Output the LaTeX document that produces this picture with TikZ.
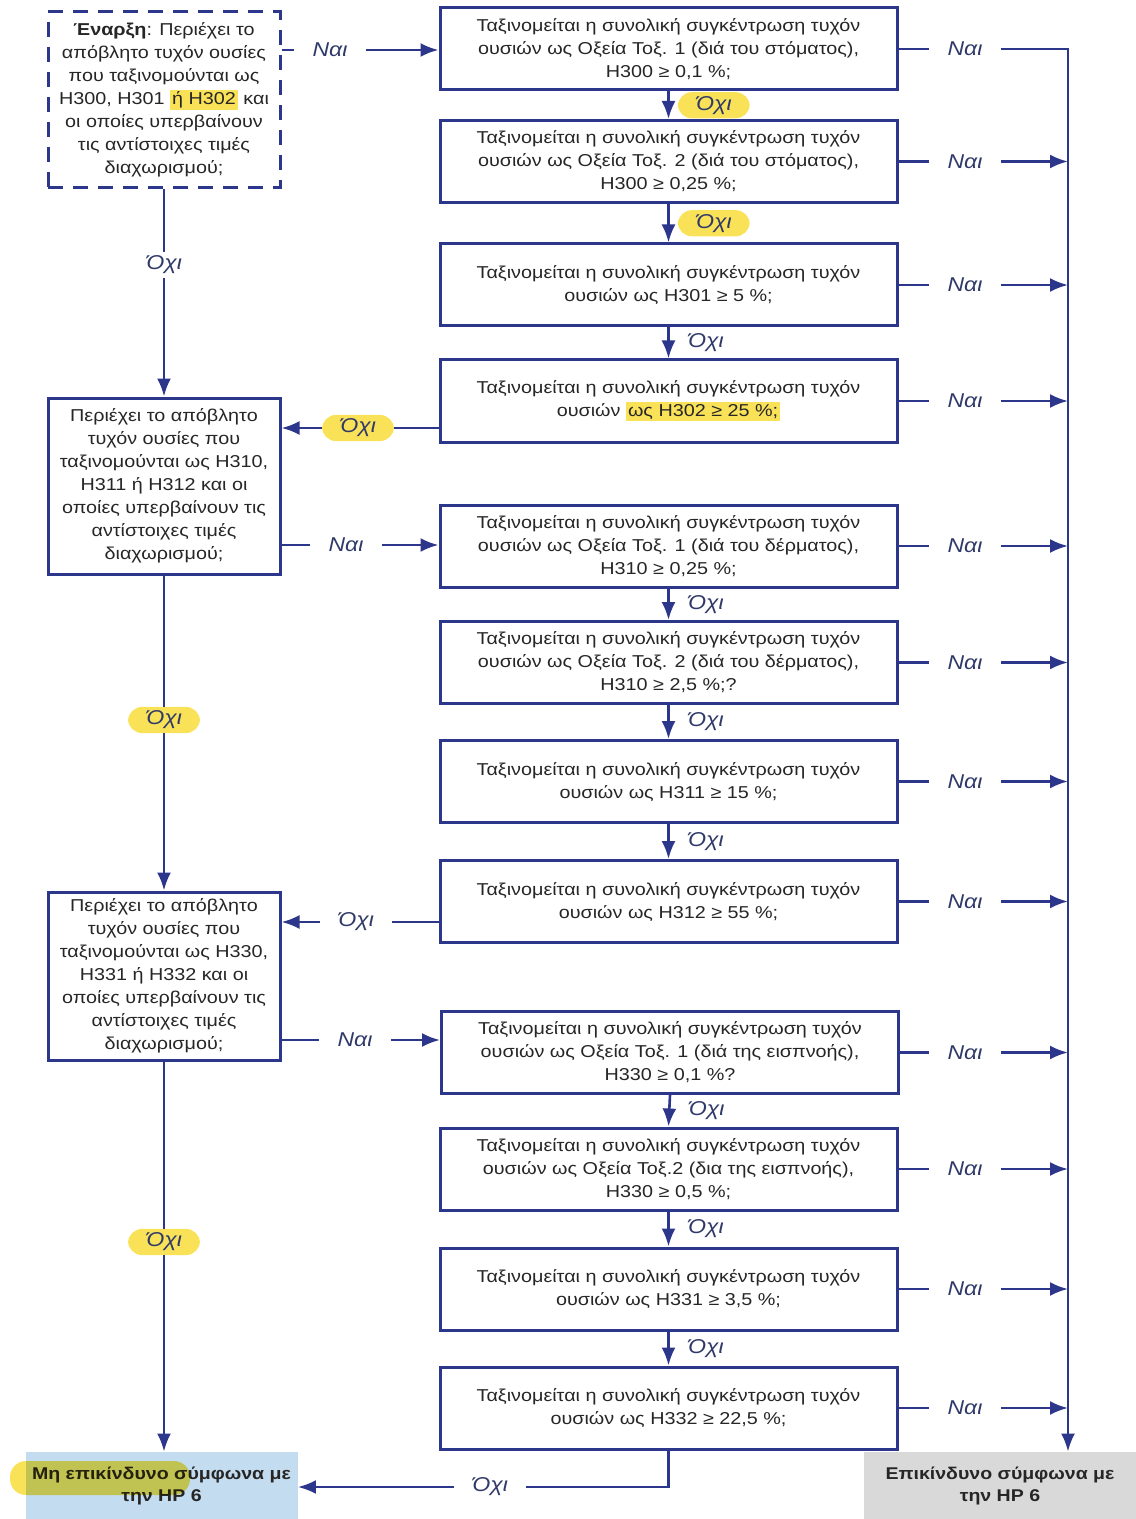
\documentclass[tikz,border=0pt]{standalone}
\usepackage{fontspec}
\setmainfont[FakeStretch=1.15]{Liberation Sans}
\usetikzlibrary{arrows.meta}

\definecolor{navy}{RGB}{44,54,138}
\definecolor{lbltxt}{RGB}{48,58,105}
\definecolor{hly}{RGB}{250,226,88}
\definecolor{nhblue}{RGB}{196,220,240}
\definecolor{hzgray}{RGB}{217,217,217}

\newcommand\hlt[1]{{\setlength\fboxsep{1pt}\colorbox{hly}{#1}}}

\tikzset{
  qbox/.style={draw=navy, line width=1.5pt, fill=white, minimum width=228.5pt, minimum height=41pt,
    align=center, inner sep=2pt, text=black!85, font=\fontsize{8.6}{11.5}\selectfont},
  lbox/.style={qbox, minimum width=116pt, minimum height=88pt},
  endbox/.style={minimum width=136pt, minimum height=33.5pt, inner sep=0pt, align=center,
    text=black!85, font=\fontsize{8.5}{11}\selectfont\bfseries},
  ln/.style={draw=navy, line width=1.3pt},
  arr/.style={ln, -{Latex[length=9pt,width=7pt]}},
  lbl/.style={font=\fontsize{10}{12}\selectfont\itshape, text=lbltxt, inner xsep=9pt, inner ysep=2pt},
  hlbl/.style={lbl, fill=hly, rounded corners=7pt},
}

\begin{document}
\begin{tikzpicture}[x=0.5pt, y=-0.5pt]
\useasboundingbox (0,0) rectangle (1135,1519);

% left column
\node[lbox, dash pattern=on 7.5pt off 5pt] (start) at (164,100) {\textbf{Έναρξη}: Περιέχει το\\ απόβλητο τυχόν ουσίες\\ που ταξινομούνται ως\\ H300, H301 \hlt{ή H302} και\\ οι οποίες υπερβαίνουν\\ τις αντίστοιχες τιμές\\ διαχωρισμού;};
\node[lbox] (l2) at (164,486) {Περιέχει το απόβλητο\\ τυχόν ουσίες που\\ ταξινομούνται ως H310,\\ H311 ή H312 και οι\\ οποίες υπερβαίνουν τις\\ αντίστοιχες τιμές\\ διαχωρισμού;};
\node[lbox, minimum height=84pt] (l3) at (164,976) {Περιέχει το απόβλητο\\ τυχόν ουσίες που\\ ταξινομούνται ως H330,\\ H331 ή H332 και οι\\ οποίες υπερβαίνουν τις\\ αντίστοιχες τιμές\\ διαχωρισμού;};

% right column
\node[qbox] (q1) at (668.5,49) {Ταξινομείται η συνολική συγκέντρωση τυχόν\\ ουσιών ως Οξεία Τοξ. 1 (διά του στόματος),\\ H300 ≥ 0,1 \%;};
\node[qbox] (q2) at (668.5,161.5) {Ταξινομείται η συνολική συγκέντρωση τυχόν\\ ουσιών ως Οξεία Τοξ. 2 (διά του στόματος),\\ H300 ≥ 0,25 \%;};
\node[qbox] (q3) at (668.5,285) {Ταξινομείται η συνολική συγκέντρωση τυχόν\\ ουσιών ως H301 ≥ 5 \%;};
\node[qbox] (q4) at (668.5,401) {Ταξινομείται η συνολική συγκέντρωση τυχόν\\ ουσιών \hlt{ως H302 ≥ 25 \%;}};
\node[qbox] (q5) at (668.5,546) {Ταξινομείται η συνολική συγκέντρωση τυχόν\\ ουσιών ως Οξεία Τοξ. 1 (διά του δέρματος),\\ H310 ≥ 0,25 \%;};
\node[qbox] (q6) at (668.5,662.5) {Ταξινομείται η συνολική συγκέντρωση τυχόν\\ ουσιών ως Οξεία Τοξ. 2 (διά του δέρματος),\\ H310 ≥ 2,5 \%;?};
\node[qbox] (q7) at (668.5,781.5) {Ταξινομείται η συνολική συγκέντρωση τυχόν\\ ουσιών ως H311 ≥ 15 \%;};
\node[qbox] (q8) at (668.5,901.5) {Ταξινομείται η συνολική συγκέντρωση τυχόν\\ ουσιών ως H312 ≥ 55 \%;};
\node[qbox] (q9) at (670,1052.5) {Ταξινομείται η συνολική συγκέντρωση τυχόν\\ ουσιών ως Οξεία Τοξ. 1 (διά της εισπνοής),\\ H330 ≥ 0,1 \%?};
\node[qbox] (q10) at (668.5,1169) {Ταξινομείται η συνολική συγκέντρωση τυχόν\\ ουσιών ως Οξεία Τοξ.2 (δια της εισπνοής),\\ H330 ≥ 0,5 \%;};
\node[qbox] (q11) at (668.5,1289) {Ταξινομείται η συνολική συγκέντρωση τυχόν\\ ουσιών ως H331 ≥ 3,5 \%;};
\node[qbox] (q12) at (668.5,1408) {Ταξινομείται η συνολική συγκέντρωση τυχόν\\ ουσιών ως H332 ≥ 22,5 \%;};

% outcomes
\node[endbox, fill=nhblue] (nh) at (161.5,1485.5) {Μη επικίνδυνο σύμφωνα με\\ την HP 6};
\fill[hly, blend mode=multiply, rounded corners=8pt] (10,1461) rectangle (190,1495);
\node[endbox, fill=hzgray] (hz) at (1000,1485.5) {Επικίνδυνο σύμφωνα με\\ την HP 6};

% yes side
\coordinate (ycol) at (965,0);
\coordinate (rt) at (1068,49);
\foreach \i in {1,...,12} {
  \node[lbl] (y\i) at (ycol |- q\i) {Ναι};
  \draw[ln] (q\i.east) -- (y\i.west);
}
\draw[arr] (y1.east) -- (rt) -- (rt |- hz.north);
\foreach \i in {2,...,12}
  \draw[arr] (y\i.east) -- (y\i.east -| rt);

% no side, right column
\draw[arr] (q1.south) -- node[hlbl, right, xshift=4pt] {Όχι} (q2.north);
\draw[arr] (q2.south) -- node[hlbl, right, xshift=4pt] {Όχι} (q3.north);
\draw[arr] (q3.south) -- node[lbl, right] {Όχι} (q4.north);
\draw[arr] (q5.south) -- node[lbl, right] {Όχι} (q6.north);
\draw[arr] (q6.south) -- node[lbl, right] {Όχι} (q7.north);
\draw[arr] (q7.south) -- node[lbl, right] {Όχι} (q8.north);
\draw[arr] (q9.south) -- node[lbl, right] {Όχι} (q10.north);
\draw[arr] (q10.south) -- node[lbl, right] {Όχι} (q11.north);
\draw[arr] (q11.south) -- node[lbl, right] {Όχι} (q12.north);

% left links
\node[lbl] (n0) at (330,50) {Ναι};
\draw[ln] (start.east |- n0) -- (n0);
\draw[arr] (n0) -- (q1.west |- n0);
\node[lbl] (o1) at (164,265) {Όχι};
\draw[ln] (start) -- (o1);
\draw[arr] (o1) -- (l2);
\node[hlbl] (o4) at (358,428) {Όχι};
\draw[ln] (q4.west |- o4) -- (o4);
\draw[arr] (o4) -- (l2.east |- o4);
\node[lbl] (n2) at (346,545) {Ναι};
\draw[ln] (l2.east |- n2) -- (n2);
\draw[arr] (n2) -- (q5.west |- n2);
\node[hlbl] (o2) at (164,720) {Όχι};
\draw[ln] (l2) -- (o2);
\draw[arr] (o2) -- (l3);
\node[lbl] (o8) at (356,922) {Όχι};
\draw[ln] (q8.west |- o8) -- (o8);
\draw[arr] (o8) -- (l3.east |- o8);
\node[lbl] (n3) at (355,1040) {Ναι};
\draw[ln] (l3.east |- n3) -- (n3);
\draw[arr] (n3) -- (q9.west |- n3);
\node[hlbl] (o3) at (164,1242) {Όχι};
\draw[ln] (l3) -- (o3);
\draw[arr] (o3) -- (o3 |- nh.north);
\node[lbl] (o12) at (490,1487) {Όχι};
\draw[ln] (q12.south) |- (o12);
\draw[arr] (o12) -- (nh.east |- o12);
\end{tikzpicture}
\end{document}
